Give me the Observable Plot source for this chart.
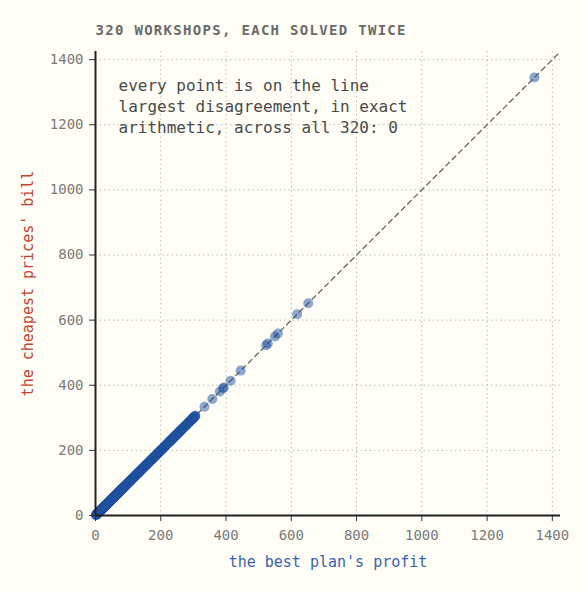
<!DOCTYPE html>
<html><head><meta charset="utf-8">
<script src="https://cdn.jsdelivr.net/npm/d3@7"></script>
<script src="https://cdn.jsdelivr.net/npm/@observablehq/plot@0.6"></script>
<style>
html,body{margin:0;padding:0;background:#fefdf6;}
#chart svg{display:block;}
</style></head><body><div id="chart"></div>
<script>
// the best plan's profit, one per workshop
const profit = [
1, 2, 3, 3, 4, 5, 6, 7, 7, 8, 9, 10, 11, 12, 12, 13, 14, 15, 16, 17,
18, 18, 19, 20, 21, 22, 23, 24, 24, 25, 26, 27, 28, 29, 30, 30, 31, 32, 33, 34,
35, 36, 36, 37, 38, 39, 40, 41, 42, 43, 43, 44, 45, 46, 47, 48, 49, 50, 51, 52,
53, 53, 54, 55, 56, 57, 58, 59, 60, 61, 62, 63, 64, 64, 65, 66, 67, 68, 69, 70,
71, 72, 73, 74, 75, 75, 76, 77, 78, 79, 80, 81, 82, 83, 84, 85, 86, 87, 88, 89,
90.5, 91, 92.5, 94, 95, 96.5, 97, 98.5, 100, 101, 102.5, 103, 104.5, 106, 107, 108.5, 109, 110.5, 112, 113,
114.5, 115, 116.5, 118, 119, 120.5, 121, 122.5, 124, 125, 126.5, 128, 129, 130.5, 132, 133, 134.5, 136, 137, 138.5,
140, 141, 142.5, 144, 145, 146.5, 148, 149, 150.5, 152, 153.5, 155, 156, 157.5, 159, 160.5, 162, 163, 164.5, 166,
167.5, 169, 170, 171.5, 173, 174.5, 176, 177, 178.5, 180, 181.5, 183, 184.5, 186, 187, 188.5, 190, 191.5, 193, 194.5,
196, 197.5, 199, 200, 201.5, 203, 204.5, 206, 207.5, 209, 210.5, 212, 213.5, 215, 216.5, 218, 219.5, 221, 222.5, 224,
225.5, 227, 228.5, 230, 231.5, 233, 234.5, 236, 237.5, 239, 240, 241.5, 243, 244, 245.5, 247, 248, 249.5, 251, 252,
253.5, 255, 256, 257.5, 259, 260, 261.5, 263, 264, 265.5, 267, 268, 270, 271.5, 273, 275, 277, 279, 281, 282.5,
284, 285.5, 287, 288, 289.5, 291, 292, 293.5, 295, 296, 297.5, 299, 300, 301.5, 303, 304, 305.5, 306,
2.5, 5.5, 8.5, 11.5, 14.5, 17.5, 20.5, 23.5, 26.5, 29.5, 32.5, 35.5, 38.5, 41.5, 44.5, 47.5, 50.5, 53.5, 56.5, 59.5,
62.5, 65.5, 68.5, 71.5, 74.5, 77.5, 80.5, 83.5, 86.5, 89.5, 6, 15, 22, 31, 40, 48, 57, 66, 75, 84,
9, 19, 28, 37, 46, 55, 63, 72,
334, 358, 381, 391, 393, 414, 445, 523, 528, 550, 559, 618, 652, 1345
];
// the cheapest prices' bill: identical to the profit for every workshop (disagreement 0)
const bill = profit.slice();

const ticks = [0, 200, 400, 600, 800, 1000, 1200, 1400];
const domainMax = 1425;
const title = "320 WORKSHOPS, EACH SOLVED TWICE";
const notes = ["every point is on the line", "largest disagreement, in exact", "arithmetic, across all 320: 0"];
const xLabel = "the best plan's profit";
const yLabel = "the cheapest prices' bill";

const data = profit.map((p, i) => ({profit: p, bill: bill[i]}));
const font = "'DejaVu Sans Mono', monospace";
const fmt = d => String(d);

const chart = Plot.plot({
  width: 586, height: 592,
  marginTop: 51, marginBottom: 77, marginLeft: 95, marginRight: 26,
  style: {background: "#fefdf6", fontFamily: font, fontSize: "14px", color: "#777", overflow: "visible"},
  x: {domain: [0, domainMax], label: null},
  y: {domain: [0, domainMax], label: null},
  marks: [
    Plot.gridX(ticks, {stroke: "#bbb", strokeOpacity: 1, strokeDasharray: "1.5,3"}),
    Plot.gridY(ticks, {stroke: "#bbb", strokeOpacity: 1, strokeDasharray: "1.5,3"}),
    Plot.line([[0, 0], [domainMax, domainMax]], {stroke: "#666", strokeWidth: 1.3, strokeDasharray: "5,4"}),
    Plot.dot(data, {x: "profit", y: "bill", r: 5, fill: "#1f4f9f", fillOpacity: 0.5, stroke: "none"}),
    Plot.axisX({ticks, tickSize: 6, text: null, stroke: "#333", label: null}),
    Plot.axisY({ticks, tickSize: 6, text: null, stroke: "#333", label: null}),
    Plot.axisX({ticks, tickSize: 0, tickPadding: 15, tickFormat: fmt, fill: "#7a7a7a", fontSize: 14, label: null}),
    Plot.axisY({ticks, tickSize: 0, tickPadding: 12, tickFormat: fmt, fill: "#7a7a7a", fontSize: 14, label: null}),
    Plot.ruleX([0], {stroke: "#222", strokeWidth: 2}),
    Plot.ruleY([0], {stroke: "#222", strokeWidth: 2}),
    Plot.text([notes.join("\n")], {frameAnchor: "top-left", dx: 23, dy: 25, textAnchor: "start", lineAnchor: "top", lineHeight: 1.3, fontSize: 16, fill: "#4a4a4a"}),
    Plot.text([xLabel], {frameAnchor: "bottom", dy: 51, fill: "#3a64ab", fontSize: 15}),
    Plot.text([yLabel], {frameAnchor: "left", dx: -67, rotate: -90, textAnchor: "middle", fill: "#c4422f", fontSize: 15}),
    Plot.text([title], {frameAnchor: "top-left", dy: -26, textAnchor: "start", fill: "#6a6a6a", fontSize: 14, fontWeight: 600, className: "ttl"})
  ]
});
d3.select(chart).selectAll(".ttl text").style("letter-spacing", "1.3px");
document.getElementById("chart").appendChild(chart);
</script></body></html>
